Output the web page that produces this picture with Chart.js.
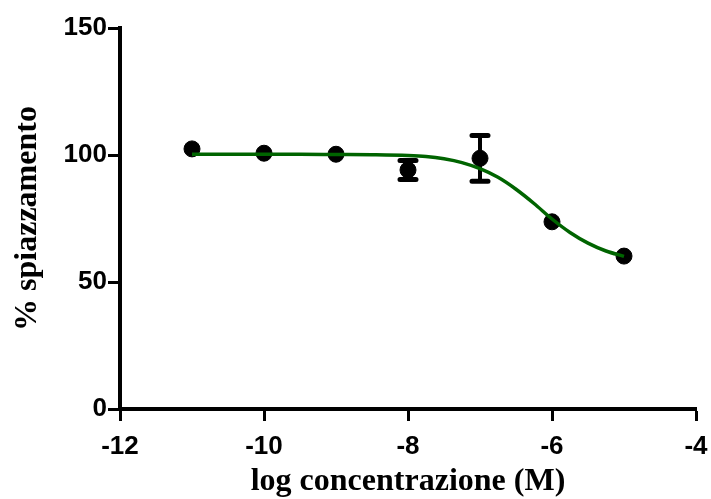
<!DOCTYPE html>
<html>
<head>
<meta charset="utf-8">
<script src="https://cdn.jsdelivr.net/npm/chart.js@4"></script>
<style>
  html, body { margin: 0; padding: 0; background: #fff; }
  #wrap { width: 711px; height: 499px; }
</style>
</head>
<body>
<div id="wrap"><canvas id="grafico" width="711" height="499"></canvas></div>
<script>
// dati
const logConc = [-11, -10, -9, -8, -7, -6, -5];
const spiazzamento = [102.4, 100.7, 100.3, 94.1, 98.7, 73.7, 60.2];
const sem = [0, 0, 0, 3.7, 9.0, 0, 0];

const curvaX = [-11, -10.5, -10, -9.5, -9, -8.5, -8, -7.75, -7.5, -7.25, -7, -6.75, -6.5, -6.25, -6, -5.75, -5.5, -5.25, -5];
const curvaY = [100.3, 100.3, 100.3, 100.3, 100.2, 100.1, 99.8, 99.4, 98.5, 97.0, 94.6, 91.2, 86.5, 80.9, 74.8, 69.5, 65.3, 62.2, 60.1];

const xTicks = [-12, -10, -8, -6, -4];
const yTicks = [0, 50, 100, 150];

document.addEventListener("DOMContentLoaded", () => {
  const ctx = document.getElementById("grafico").getContext("2d");

  // barre di errore disegnate con le scale del grafico
  const barreErrore = {
    id: "barreErrore",
    beforeDatasetsDraw(chart) {
      const { ctx, scales: { x, y } } = chart;
      ctx.save();
      ctx.strokeStyle = "#000";
      logConc.forEach((lx, i) => {
        if (!sem[i]) return;
        const px = x.getPixelForValue(lx);
        const top = y.getPixelForValue(spiazzamento[i] + sem[i]);
        const bot = y.getPixelForValue(spiazzamento[i] - sem[i]);
        ctx.lineWidth = 4;
        ctx.lineCap = "butt";
        ctx.beginPath();
        ctx.moveTo(px, top);
        ctx.lineTo(px, bot);
        ctx.stroke();
        ctx.lineWidth = 5;
        ctx.lineCap = "round";
        ctx.beginPath();
        ctx.moveTo(px - 8, top);
        ctx.lineTo(px + 8, top);
        ctx.moveTo(px - 8, bot);
        ctx.lineTo(px + 8, bot);
        ctx.stroke();
      });
      ctx.restore();
    }
  };

  const tickFont = { family: "'Liberation Sans', Arial, sans-serif", size: 26, weight: "bold" };
  const titleFont = { family: "'Liberation Serif', 'Times New Roman', serif", size: 32, weight: "bold" };

  new Chart(ctx, {
    type: "scatter",
    data: {
      datasets: [
        {
          type: "line",
          label: "fit",
          data: curvaX.map((v, i) => ({ x: v, y: curvaY[i] })),
          borderColor: "#006400",
          borderWidth: 3.5,
          pointRadius: 0,
          fill: false,
          cubicInterpolationMode: "monotone",
          order: 0
        },
        {
          label: "% spiazzamento",
          data: logConc.map((v, i) => ({ x: v, y: spiazzamento[i] })),
          backgroundColor: "#000",
          borderColor: "#000",
          pointRadius: 8,
          order: 1
        }
      ]
    },
    options: {
      responsive: false,
      animation: false,
      layout: { padding: { top: 28, right: 0, left: 0, bottom: 0 } },
      plugins: { legend: { display: false }, tooltip: { enabled: false } },
      scales: {
        x: {
          type: "linear",
          min: -12,
          max: -4,
          afterFit: (s) => { s.height = 90; s.paddingRight = 15; },
          afterBuildTicks: (s) => { s.ticks = xTicks.map((v) => ({ value: v })); },
          ticks: { color: "#000", font: tickFont, padding: 10, maxRotation: 0 },
          grid: { drawOnChartArea: false, drawTicks: true, tickLength: 12, tickWidth: 3, tickColor: "#000" },
          border: { display: true, color: "#000", width: 4 },
          title: { display: true, text: "log concentrazione (M)", color: "#000", font: titleFont, padding: { top: 0, bottom: -2 } }
        },
        y: {
          min: 0,
          max: 150,
          afterFit: (s) => { s.width = 120; },
          afterBuildTicks: (s) => { s.ticks = yTicks.map((v) => ({ value: v })); },
          ticks: { color: "#000", font: tickFont, padding: 1 },
          grid: { drawOnChartArea: false, drawTicks: true, tickLength: 12, tickWidth: 3, tickColor: "#000" },
          border: { display: true, color: "#000", width: 4 },
          title: { display: true, text: "% spiazzamento", color: "#000", font: titleFont, padding: { top: 9, bottom: 0 } }
        }
      }
    },
    plugins: [barreErrore]
  });
});
</script>
</body>
</html>
